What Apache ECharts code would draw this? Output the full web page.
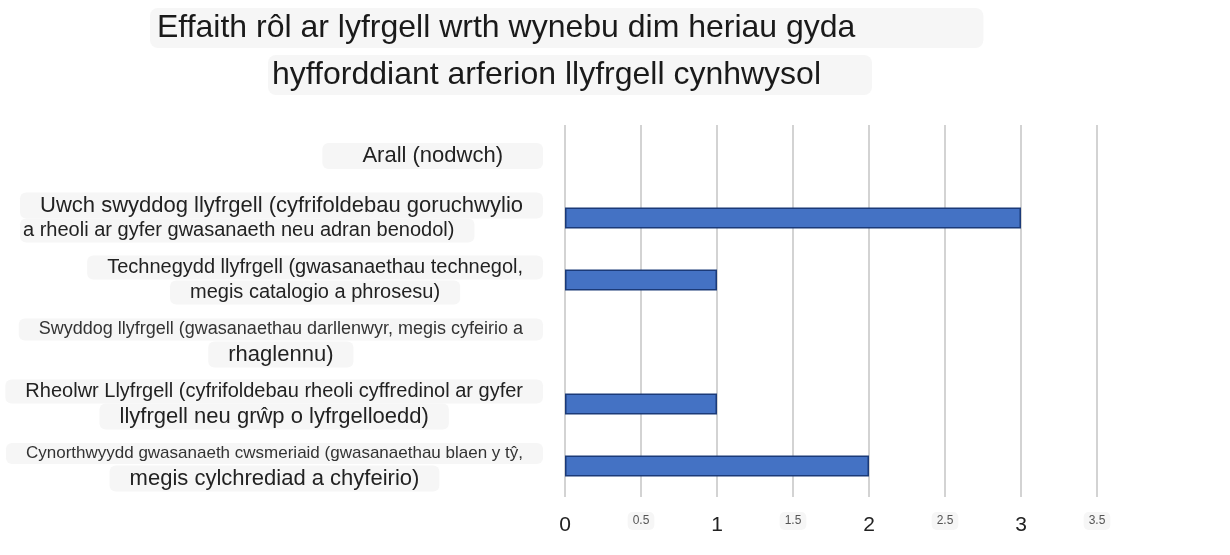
<!DOCTYPE html>
<html><head><meta charset="utf-8">
<script src="https://cdn.jsdelivr.net/npm/echarts@6/dist/echarts.min.js"></script>
<style>html,body{margin:0;padding:0;background:#fff}#c{width:1230px;height:555px}</style>
</head><body><div id="c"></div>
<script>
// ---- data ----
const titleLines = ["Effaith rôl ar lyfrgell wrth wynebu dim heriau gyda", "hyfforddiant arferion llyfrgell cynhwysol"];
const categoryLines = [
  ["Arall (nodwch)"],
  ["Uwch swyddog llyfrgell (cyfrifoldebau goruchwylio", "a rheoli ar gyfer gwasanaeth neu adran benodol)"],
  ["Technegydd llyfrgell (gwasanaethau technegol,", "megis catalogio a phrosesu)"],
  ["Swyddog llyfrgell (gwasanaethau darllenwyr, megis cyfeirio a", "rhaglennu)"],
  ["Rheolwr Llyfrgell (cyfrifoldebau rheoli cyffredinol ar gyfer", "llyfrgell neu grŵp o lyfrgelloedd)"],
  ["Cynorthwyydd gwasanaeth cwsmeriaid (gwasanaethau blaen y tŷ,", "megis cylchrediad a chyfeirio)"]
];
const categories = categoryLines.map(l => l.join(' '));
const values = [0, 3, 1, 0, 1, 2];
const xMin = 0, xMax = 3.5, xStep = 0.5;

// ---- styling ----
const FONT = "'Liberation Sans', Arial, sans-serif";
const BOX = '#f6f6f6';
const lineStyleNames = [["arall"], ["c22", "l20"], ["c20", "c20"], ["c18", "c22"], ["c20", "c22"], ["c17", "c22"]];
function tok(size, align, pad, color) {
  return { fontSize: size, align: align, lineHeight: 25, padding: pad || [2, 20, 2, 20],
           backgroundColor: BOX, borderRadius: 6, color: color || '#222', fontFamily: FONT };
}
const richY = {
  arall: tok(22, 'center', [2, 40, 2, 40]),
  c22: tok(22, 'center'),
  c20: tok(20, 'center'),
  l20: tok(20, 'left', [2, 20, 2, 3]),
  c18: tok(18, 'center', null, '#333'),
  c17: tok(17, 'center', null, '#333')
};

const barData = values.map(v => v === 0 ? { value: v, itemStyle: { borderWidth: 0, opacity: 0 } } : v);

const chart = echarts.init(document.getElementById('c'));
chart.setOption({
  backgroundColor: '#fff',
  animation: false,
  title: [
    { text: titleLines[0], left: 150, top: 8, padding: [4, 128, 4, 7], backgroundColor: BOX, borderRadius: 8,
      textStyle: { fontFamily: FONT, fontSize: 32, fontWeight: 'normal', color: '#1a1a1a', lineHeight: 32 } },
    { text: titleLines[1], left: 268, top: 55, padding: [4, 51, 4, 4], backgroundColor: BOX, borderRadius: 8,
      textStyle: { fontFamily: FONT, fontSize: 32, fontWeight: 'normal', color: '#1a1a1a', lineHeight: 32 } }
  ],
  grid: { left: 565, right: 133, top: 125, bottom: 58, containLabel: false },
  xAxis: {
    type: 'value', min: xMin, max: xMax, interval: xStep,
    axisLine: { show: false }, axisTick: { show: false },
    splitLine: { show: true, lineStyle: { color: '#c4c4c4', width: 1.5 } },
    axisLabel: {
      margin: 17, verticalAlign: 'top',
      formatter: v => (Number.isInteger(v) ? '{big|' + v + '}' : '{small|' + v + '}'),
      rich: {
        big: { fontSize: 21, color: '#222', fontFamily: FONT, lineHeight: 22 },
        small: { fontSize: 12, color: '#555', fontFamily: FONT, backgroundColor: '#f6f6f6', borderRadius: 5, padding: [3, 5], lineHeight: 14 }
      }
    }
  },
  yAxis: {
    type: 'category', data: categories, inverse: true,
    axisLine: { show: false }, axisTick: { show: false }, splitLine: { show: false },
    axisLabel: {
      margin: 22, interval: 0,
      formatter: (val, idx) => categoryLines[idx].map((t, j) => '{' + lineStyleNames[idx][j] + '|' + t + '}').join('\n'),
      rich: richY
    }
  },
  series: [{
    type: 'bar', data: barData, barWidth: 21,
    itemStyle: { color: '#4472c4', borderColor: '#1b3a78', borderWidth: 1.5 }
  }]
});
</script>
</body></html>
